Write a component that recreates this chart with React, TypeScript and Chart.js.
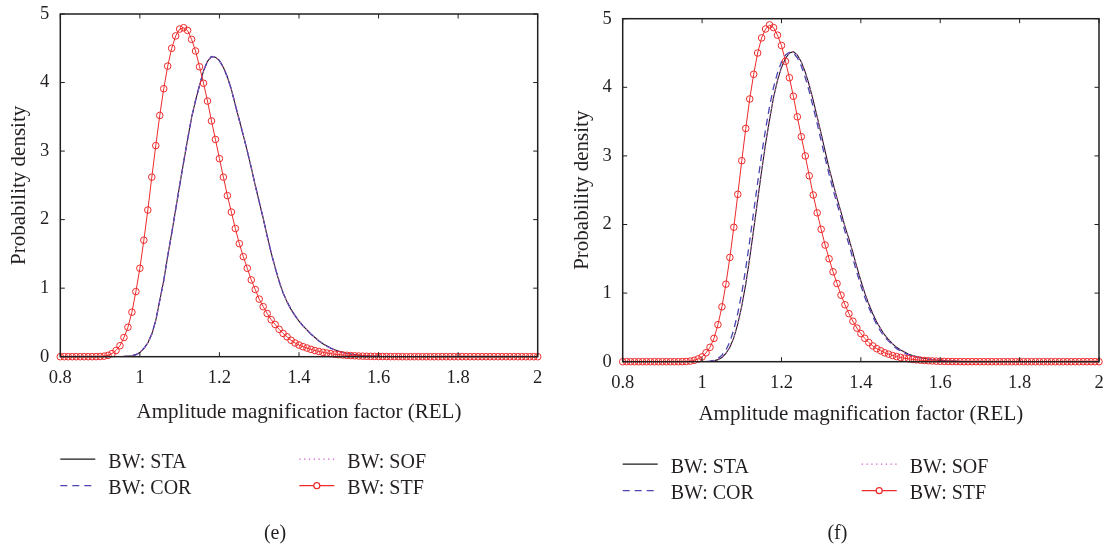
import React, { useEffect, useRef } from "react";
import { Chart, registerables } from "chart.js";

Chart.register(...registerables);

// ---------- data ----------
// sampling grid of the density curves: 0.80, 0.81, ..., 2.00
const xStart = 0.8;
const xStep = 0.01;
const sampleCount = 121;
const xValues: number[] = Array.from({ length: sampleCount }, (_, i) => Math.round((xStart + i * xStep) * 100) / 100);

const xTickValues = [0.8, 1.0, 1.2, 1.4, 1.6, 1.8, 2.0];
const xTickLabels = ["0.8", "1", "1.2", "1.4", "1.6", "1.8", "2"];
const yTickValues = [0, 1, 2, 3, 4, 5];
const yTickLabels = ["0", "1", "2", "3", "4", "5"];

const seriesLabels = ["BW: STA", "BW: COR", "BW: SOF", "BW: STF"];
const xTitle = "Amplitude magnification factor (REL)";
const yTitle = "Probability density";
const captions = ["(e)", "(f)"];

// panel (e)
const staE = [
  0, 0, 0, 0, 0, 0, 0, 0, 0, 0,
  0, 0, 0, 0, 0.001, 0.002, 0.004, 0.008, 0.015, 0.03,
  0.06, 0.12, 0.2, 0.33, 0.53, 0.82, 1.11, 1.47, 1.8, 2.15,
  2.5, 2.84, 3.17, 3.49, 3.74, 3.96, 4.17, 4.31, 4.38, 4.37,
  4.32, 4.22, 4.08, 3.9, 3.67, 3.45, 3.23, 3.0, 2.76, 2.5,
  2.26, 2.02, 1.76, 1.52, 1.3, 1.1, 0.93, 0.8, 0.69, 0.6,
  0.52, 0.45, 0.39, 0.33, 0.28, 0.23, 0.19, 0.155, 0.125, 0.1,
  0.08, 0.063, 0.05, 0.039, 0.03, 0.023, 0.017, 0.013, 0.01, 0.007,
  0.005, 0.004, 0.003, 0.002, 0.001, 0, 0, 0, 0, 0,
  0, 0, 0, 0, 0, 0, 0, 0, 0, 0,
  0, 0, 0, 0, 0, 0, 0, 0, 0, 0,
  0, 0, 0, 0, 0, 0, 0, 0, 0, 0,
  0,
];
const corE = staE;
const sofE = staE;
const stfE = [
  0, 0, 0, 0, 0, 0, 0, 0, 0, 0.001,
  0.003, 0.008, 0.02, 0.045, 0.09, 0.16, 0.28, 0.43, 0.65, 0.95,
  1.29, 1.7, 2.14, 2.62, 3.08, 3.52, 3.91, 4.24, 4.5, 4.68,
  4.78, 4.8, 4.76, 4.63, 4.46, 4.23, 3.99, 3.73, 3.44, 3.17,
  2.89, 2.62, 2.35, 2.11, 1.87, 1.65, 1.46, 1.29, 1.12, 0.98,
  0.84, 0.73, 0.63, 0.54, 0.47, 0.4, 0.34, 0.29, 0.24, 0.2,
  0.17, 0.146, 0.126, 0.107, 0.09, 0.076, 0.064, 0.053, 0.044, 0.036,
  0.03, 0.025, 0.02, 0.016, 0.013, 0.01, 0.008, 0.006, 0.005, 0.004,
  0.003, 0.002, 0.002, 0.001, 0.001, 0.001, 0, 0, 0, 0,
  0, 0, 0, 0, 0, 0, 0, 0, 0, 0,
  0, 0, 0, 0, 0, 0, 0, 0, 0, 0,
  0, 0, 0, 0, 0, 0, 0, 0, 0, 0,
  0,
];

// panel (f)
const staF = [
  0, 0, 0, 0, 0, 0, 0, 0, 0, 0,
  0, 0, 0, 0, 0, 0, 0, 0, 0, 0,
  0, 0.002, 0.005, 0.012, 0.03, 0.06, 0.12, 0.21, 0.35, 0.55,
  0.81, 1.13, 1.51, 1.93, 2.36, 2.78, 3.18, 3.53, 3.85, 4.1,
  4.29, 4.42, 4.5, 4.52, 4.47, 4.37, 4.22, 4.03, 3.81, 3.57,
  3.32, 3.07, 2.82, 2.6, 2.38, 2.18, 1.97, 1.79, 1.59, 1.38,
  1.18, 1.0, 0.84, 0.7, 0.58, 0.48, 0.39, 0.32, 0.26, 0.21,
  0.17, 0.14, 0.11, 0.09, 0.075, 0.06, 0.05, 0.04, 0.032, 0.025,
  0.02, 0.015, 0.011, 0.008, 0.006, 0.004, 0.003, 0.002, 0.001, 0,
  0, 0, 0, 0, 0, 0, 0, 0, 0, 0,
  0, 0, 0, 0, 0, 0, 0, 0, 0, 0,
  0, 0, 0, 0, 0, 0, 0, 0, 0, 0,
  0,
];
const corF = [
  0, 0, 0, 0, 0, 0, 0, 0, 0, 0,
  0, 0, 0, 0, 0, 0, 0, 0, 0, 0,
  0.001, 0.004, 0.009, 0.022, 0.048, 0.095, 0.17, 0.29, 0.47, 0.71,
  1.0, 1.36, 1.76, 2.19, 2.61, 3.02, 3.39, 3.72, 4.0, 4.21,
  4.37, 4.47, 4.51, 4.5, 4.43, 4.31, 4.14, 3.94, 3.71, 3.47,
  3.22, 2.97, 2.73, 2.51, 2.3, 2.1, 1.9, 1.71, 1.5, 1.3,
  1.11, 0.94, 0.79, 0.66, 0.54, 0.44, 0.36, 0.3, 0.24, 0.19,
  0.155, 0.125, 0.1, 0.082, 0.067, 0.055, 0.045, 0.036, 0.029, 0.022,
  0.017, 0.013, 0.01, 0.007, 0.005, 0.003, 0.002, 0.001, 0, 0,
  0, 0, 0, 0, 0, 0, 0, 0, 0, 0,
  0, 0, 0, 0, 0, 0, 0, 0, 0, 0,
  0, 0, 0, 0, 0, 0, 0, 0, 0, 0,
  0,
];
const sofF = staF;
const stfF = [
  0, 0, 0, 0, 0, 0, 0, 0, 0, 0,
  0, 0, 0, 0, 0, 0.001, 0.003, 0.008, 0.02, 0.04,
  0.07, 0.13, 0.21, 0.34, 0.54, 0.8, 1.13, 1.52, 1.96, 2.44,
  2.93, 3.4, 3.83, 4.19, 4.5, 4.72, 4.85, 4.91, 4.87, 4.76,
  4.61, 4.38, 4.14, 3.87, 3.57, 3.28, 3.0, 2.71, 2.43, 2.17,
  1.93, 1.7, 1.5, 1.31, 1.14, 0.97, 0.83, 0.7, 0.59, 0.49,
  0.41, 0.34, 0.28, 0.23, 0.19, 0.16, 0.13, 0.11, 0.09, 0.075,
  0.062, 0.051, 0.042, 0.034, 0.028, 0.022, 0.018, 0.014, 0.011, 0.008,
  0.006, 0.005, 0.003, 0.002, 0.001, 0.001, 0, 0, 0, 0,
  0, 0, 0, 0, 0, 0, 0, 0, 0, 0,
  0, 0, 0, 0, 0, 0, 0, 0, 0, 0,
  0, 0, 0, 0, 0, 0, 0, 0, 0, 0,
  0,
];

// ---------- styles ----------
const SERIF = '"Liberation Serif", "DejaVu Serif", serif';
const TEXT = "#231f20";
const BLACK = "#1a1a1a";
const BLUE = "#4a45b0";
const PINK = "#d45ccc";
const RED = "#ee2a2a";
const TICK_LEN = 4.5;

const pairs = (ys: number[]) => ys.map((y, i) => ({ x: xValues[i], y }));

const decorPlugin = {
  id: "panelDecor",
  afterDraw(chart: any, _args: any, o: any) {
    const { ctx, chartArea: a, scales } = chart;
    const xs = scales.x;
    const ys = scales.y;
    ctx.save();
    // inward tick marks on all four sides
    ctx.strokeStyle = TEXT;
    ctx.lineWidth = 1;
    ctx.beginPath();
    for (const v of xTickValues) {
      const px = xs.getPixelForValue(v);
      ctx.moveTo(px, a.bottom);
      ctx.lineTo(px, a.bottom - TICK_LEN);
      ctx.moveTo(px, a.top);
      ctx.lineTo(px, a.top + TICK_LEN);
    }
    for (const v of yTickValues) {
      const py = ys.getPixelForValue(v);
      ctx.moveTo(a.left, py);
      ctx.lineTo(a.left + TICK_LEN, py);
      ctx.moveTo(a.right, py);
      ctx.lineTo(a.right - TICK_LEN, py);
    }
    ctx.stroke();
    // frame
    ctx.lineWidth = 1.5;
    ctx.strokeRect(a.left, a.top, a.right - a.left, a.bottom - a.top);

    // axis titles
    ctx.fillStyle = TEXT;
    ctx.font = `21px ${SERIF}`;
    ctx.textAlign = "center";
    ctx.textBaseline = "alphabetic";
    ctx.fillText(xTitle, (a.left + a.right) / 2, o.xTitleBaseline);
    ctx.save();
    ctx.translate(a.left - 35, (a.top + a.bottom) / 2);
    ctx.rotate(-Math.PI / 2);
    ctx.fillText(yTitle, 0, 0);
    ctx.restore();

    // legend (2 columns x 2 rows)
    const items = [
      { label: seriesLabels[0], col: 0, row: 0, color: BLACK, dash: [], marker: false, width: 1.2 },
      { label: seriesLabels[1], col: 0, row: 1, color: BLUE, dash: [7, 5], marker: false, width: 1.3 },
      { label: seriesLabels[2], col: 1, row: 0, color: PINK, dash: [1.3, 3.5], marker: false, width: 1.3 },
      { label: seriesLabels[3], col: 1, row: 1, color: RED, dash: [], marker: true, width: 1.2 },
    ];
    ctx.font = `20px ${SERIF}`;
    ctx.textAlign = "left";
    for (const it of items) {
      const x0 = a.left + it.col * 239;
      const y0 = a.bottom + 102.5 + it.row * 26.5;
      ctx.strokeStyle = it.color;
      ctx.lineWidth = it.width;
      ctx.setLineDash(it.dash);
      ctx.beginPath();
      ctx.moveTo(x0, y0);
      ctx.lineTo(x0 + 35, y0);
      ctx.stroke();
      ctx.setLineDash([]);
      if (it.marker) {
        ctx.beginPath();
        ctx.arc(x0 + 17.5, y0, 3, 0, Math.PI * 2);
        ctx.fillStyle = "#fff";
        ctx.fill();
        ctx.stroke();
      }
      ctx.fillStyle = TEXT;
      ctx.fillText(it.label, x0 + 48, y0 + 8.5);
    }

    // caption
    ctx.font = `20px ${SERIF}`;
    ctx.textAlign = "center";
    ctx.fillText(o.caption, a.left + 214.7, 539);
    ctx.restore();
  },
};

type PanelProps = {
  left: number;
  plotLeft: number;
  plotTop: number;
  plotRight: number;
  plotBottom: number;
  xTitleBaseline: number;
  caption: string;
  sta: number[];
  cor: number[];
  sof: number[];
  stf: number[];
};

const W = 552;
const H = 546;
const X_AXIS_H = 40;

function Panel(p: PanelProps) {
  const ref = useRef<HTMLCanvasElement>(null);
  useEffect(() => {
    const chart = new Chart(ref.current as HTMLCanvasElement, {
      type: "line",
      data: {
        datasets: [
          {
            label: seriesLabels[3],
            data: pairs(p.stf),
            borderColor: RED,
            borderWidth: 1,
            pointRadius: 3.3,
            pointBorderWidth: 1,
            pointBorderColor: RED,
            pointBackgroundColor: "rgba(255,255,255,0)",
            tension: 0,
            clip: false as any,
          },
          {
            label: seriesLabels[2],
            data: pairs(p.sof),
            borderColor: PINK,
            borderWidth: 1.3,
            borderDash: [1.3, 3.5],
            pointRadius: 0,
            tension: 0,
          },
          {
            label: seriesLabels[1],
            data: pairs(p.cor),
            borderColor: BLUE,
            borderWidth: 1.3,
            borderDash: [7, 5],
            pointRadius: 0,
            tension: 0,
          },
          {
            label: seriesLabels[0],
            data: pairs(p.sta),
            borderColor: BLACK,
            borderWidth: 1.1,
            pointRadius: 0,
            tension: 0,
          },
        ],
      },
      options: {
        animation: false,
        responsive: false,
        maintainAspectRatio: false,
        events: [],
        layout: {
          padding: {
            left: 0,
            top: p.plotTop,
            right: W - p.plotRight,
            bottom: H - p.plotBottom - X_AXIS_H,
          },
        },
        plugins: {
          legend: { display: false },
          tooltip: { enabled: false },
          title: { display: false },
          panelDecor: { caption: p.caption, xTitleBaseline: p.xTitleBaseline },
        } as any,
        scales: {
          x: {
            type: "linear",
            min: 0.8,
            max: 2,
            afterBuildTicks: (s: any) => {
              s.ticks = xTickValues.map((v) => ({ value: v }));
            },
            afterFit: (s: any) => {
              s.height = X_AXIS_H;
              s.paddingLeft = 0;
              s.paddingRight = 0;
            },
            grid: { display: false, drawTicks: false },
            border: { display: false },
            ticks: {
              autoSkip: false,
              maxRotation: 0,
              padding: 10,
              color: TEXT,
              font: { family: SERIF, size: 18.5 },
              callback: (v: any) => {
                const i = xTickValues.findIndex((t) => Math.abs(t - Number(v)) < 1e-6);
                return i >= 0 ? xTickLabels[i] : "";
              },
            },
          },
          y: {
            type: "linear",
            min: 0,
            max: 5,
            afterBuildTicks: (s: any) => {
              s.ticks = yTickValues.map((v) => ({ value: v }));
            },
            afterFit: (s: any) => {
              s.width = p.plotLeft;
              s.paddingTop = 0;
              s.paddingBottom = 0;
            },
            grid: { display: false, drawTicks: false },
            border: { display: false },
            ticks: {
              autoSkip: false,
              padding: 11,
              color: TEXT,
              font: { family: SERIF, size: 18.5 },
              callback: (v: any) => {
                const i = yTickValues.findIndex((t) => Math.abs(t - Number(v)) < 1e-6);
                return i >= 0 ? yTickLabels[i] : "";
              },
            },
          },
        },
      },
      plugins: [decorPlugin as any],
    });
    return () => chart.destroy();
  }, []);
  return (
    <canvas
      ref={ref}
      width={W}
      height={H}
      style={{ position: "absolute", left: p.left, top: 0, width: W, height: H }}
    />
  );
}

export default function App() {
  return (
    <div style={{ position: "fixed", left: 0, top: 0, width: 1104, height: 546, background: "#fff", overflow: "hidden" }}>
      <Panel
        left={0}
        plotLeft={60.3}
        plotTop={14}
        plotRight={537.7}
        plotBottom={356.7}
        xTitleBaseline={417.5}
        caption={captions[0]}
        sta={staE}
        cor={corE}
        sof={sofE}
        stf={stfE}
      />
      <Panel
        left={552}
        plotLeft={70.7}
        plotTop={18.7}
        plotRight={548}
        plotBottom={361.7}
        xTitleBaseline={419.5}
        caption={captions[1]}
        sta={staF}
        cor={corF}
        sof={sofF}
        stf={stfF}
      />
    </div>
  );
}
